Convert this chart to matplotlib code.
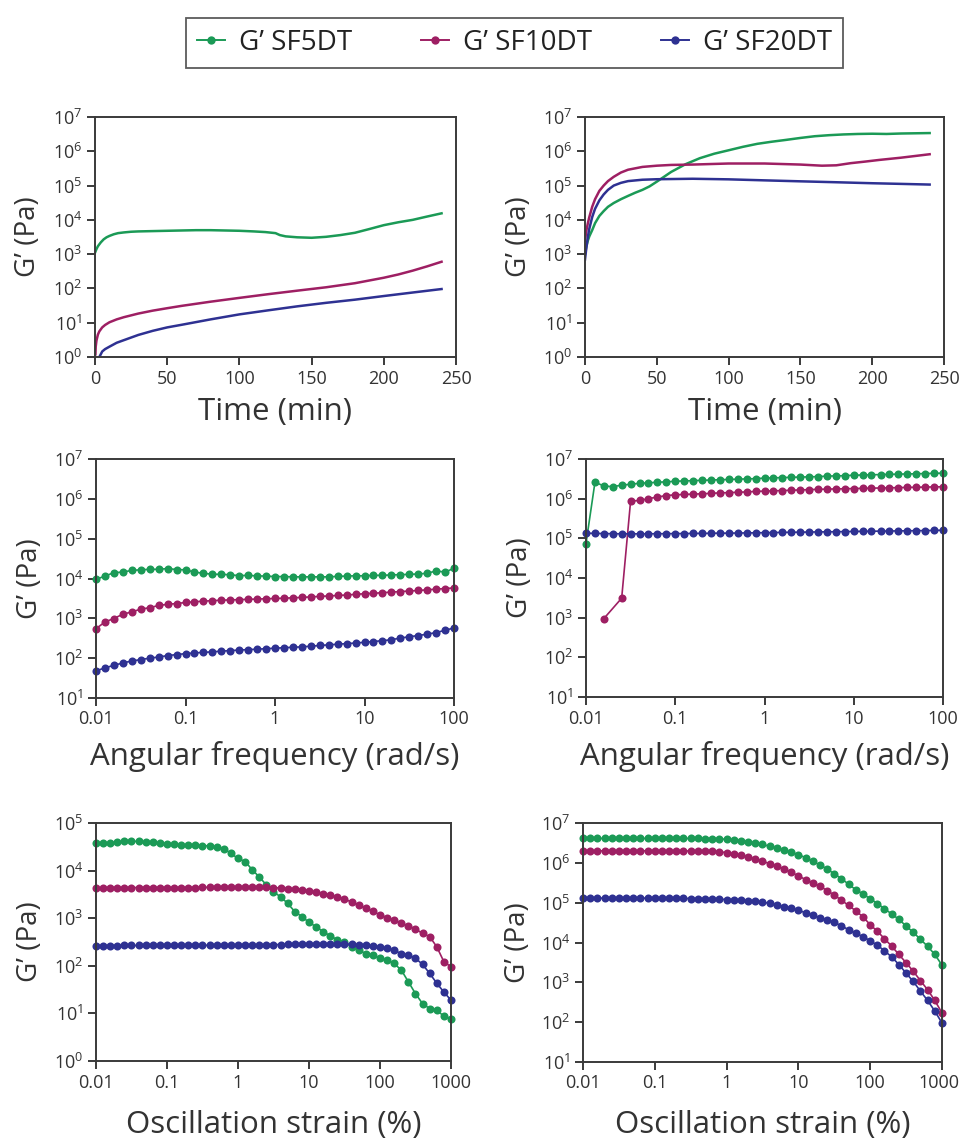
import matplotlib
matplotlib.use("Agg")
import matplotlib.pyplot as plt
import matplotlib.transforms as mtransforms
from matplotlib.lines import Line2D
from matplotlib.ticker import FixedLocator, FixedFormatter, NullLocator

plt.rcParams['font.family'] = ['Open Sans', 'DejaVu Sans']
plt.rcParams['mathtext.fontset'] = 'custom'
plt.rcParams['mathtext.rm'] = 'Open Sans'
plt.rcParams['mathtext.it'] = 'Open Sans'

# ---------------- data ----------------
series_labels = ["G\u2019 SF5DT", "G\u2019 SF10DT", "G\u2019 SF20DT"]
colors = ["#1b9a56", "#9e1f63", "#2e3192"]

# time sweep, left panel
t1_g = [0, 1, 2, 4, 6, 8, 10, 13, 16, 20, 25, 30, 40, 50, 60, 70, 80, 90, 100, 110, 118, 125,
        128, 132, 140, 150, 160, 170, 180, 190, 200, 210, 220, 230, 240]
g1_g = [1.1e3, 1.4e3, 1.7e3, 2.2e3, 2.7e3, 3.1e3, 3.4e3, 3.8e3, 4.1e3, 4.3e3, 4.5e3, 4.6e3, 4.7e3,
        4.8e3, 4.9e3, 5.0e3, 5.0e3, 4.9e3, 4.8e3, 4.6e3, 4.4e3, 4.1e3, 3.6e3, 3.3e3, 3.1e3, 3.0e3,
        3.2e3, 3.6e3, 4.2e3, 5.4e3, 7.0e3, 8.5e3, 1.0e4, 1.25e4, 1.55e4]
t1_r = [0.3, 0.5, 1, 2, 3, 5, 7, 10, 15, 20, 30, 40, 50, 60, 80, 100, 120, 140, 160, 180, 200,
        210, 220, 230, 240]
g1_r = [1.2, 2.0, 3.0, 4.5, 5.6, 7.3, 8.6, 10.3, 12.5, 14.5, 18.5, 22.5, 26.5, 31, 41, 53, 68,
        86, 108, 142, 205, 255, 330, 440, 600]
t1_b = [3, 4, 5, 7, 10, 15, 20, 30, 40, 50, 60, 80, 100, 120, 140, 160, 180, 200, 220, 240]
g1_b = [1.0, 1.2, 1.45, 1.7, 2.0, 2.6, 3.1, 4.4, 5.8, 7.3, 8.7, 12.5, 17.5, 23, 30, 38, 47, 60,
        76, 96]

# time sweep, right panel
t2_g = [0, 1, 2, 3, 5, 7, 10, 13, 16, 20, 25, 30, 35, 40, 45, 50, 55, 60, 70, 80, 90, 100, 110,
        120, 130, 140, 150, 160, 170, 180, 190, 200, 210, 220, 230, 240]
g2_g = [1.0e3, 1.7e3, 2.5e3, 3.3e3, 5e3, 8e3, 1.3e4, 1.8e4, 2.4e4, 3.1e4, 4e4, 5e4, 6.2e4, 7.5e4,
        9.5e4, 1.3e5, 1.8e5, 2.5e5, 4.2e5, 6.3e5, 8.5e5, 1.07e6, 1.35e6, 1.65e6, 1.9e6, 2.15e6,
        2.45e6, 2.75e6, 2.95e6, 3.1e6, 3.2e6, 3.25e6, 3.2e6, 3.3e6, 3.35e6, 3.4e6]
t2_r = [0, 1, 2, 3, 5, 7, 10, 13, 16, 20, 25, 30, 40, 50, 60, 75, 100, 125, 150, 165, 175, 185,
        195, 205, 220, 240]
g2_r = [2.5e3, 5e3, 8e3, 1.2e4, 2.4e4, 4e4, 7e4, 1e5, 1.35e5, 1.8e5, 2.4e5, 2.9e5, 3.5e5, 3.8e5,
        4.0e5, 4.1e5, 4.4e5, 4.4e5, 4.1e5, 3.8e5, 3.9e5, 4.5e5, 5e5, 5.6e5, 6.5e5, 8.2e5]
t2_b = [0, 1, 2, 3, 5, 7, 10, 13, 16, 20, 25, 30, 40, 50, 75, 100, 125, 150, 175, 200, 220, 240]
g2_b = [7e2, 1.6e3, 3.2e3, 5.5e3, 1.2e4, 2.1e4, 3.7e4, 5.5e4, 7.5e4, 1.0e5, 1.2e5, 1.35e5,
        1.48e5, 1.53e5, 1.58e5, 1.52e5, 1.42e5, 1.33e5, 1.25e5, 1.17e5, 1.12e5, 1.07e5]

# frequency sweep
freq = [0.01, 0.0126, 0.0158, 0.02, 0.0251, 0.0316, 0.0398, 0.0501, 0.0631, 0.0794,
        0.1, 0.126, 0.158, 0.2, 0.251, 0.316, 0.398, 0.501, 0.631, 0.794,
        1, 1.26, 1.58, 2, 2.51, 3.16, 3.98, 5.01, 6.31, 7.94,
        10, 12.6, 15.8, 20, 25.1, 31.6, 39.8, 50.1, 63.1, 79.4, 100]
f1_g = [9.5e3, 1.15e4, 1.4e4, 1.45e4, 1.6e4, 1.65e4, 1.7e4, 1.7e4, 1.78e4, 1.68e4,
        1.65e4, 1.45e4, 1.35e4, 1.28e4, 1.27e4, 1.24e4, 1.18e4, 1.2e4, 1.16e4, 1.15e4,
        1.12e4, 1.12e4, 1.1e4, 1.1e4, 1.1e4, 1.1e4, 1.1e4, 1.13e4, 1.15e4, 1.17e4,
        1.17e4, 1.2e4, 1.2e4, 1.23e4, 1.25e4, 1.27e4, 1.3e4, 1.35e4, 1.55e4, 1.45e4, 1.8e4]
f1_r = [550, 810, 990, 1270, 1450, 1700, 1850, 2100, 2250, 2350,
        2500, 2600, 2700, 2780, 2850, 2900, 2950, 3000, 3050, 3100,
        3150, 3200, 3280, 3350, 3450, 3550, 3650, 3750, 3850, 4000,
        4150, 4250, 4400, 4550, 4700, 4850, 5000, 5200, 5400, 5600, 5800]
f1_b = [48, 57, 66, 76, 85, 92, 100, 107, 116, 123,
        130, 135, 140, 144, 150, 155, 160, 164, 168, 173,
        178, 183, 188, 192, 200, 208, 216, 224, 232, 240,
        250, 262, 275, 290, 320, 345, 370, 400, 440, 500, 575]

f2_g = [7.4e4, 2.6e6, 2.1e6, 2.0e6, 2.2e6, 2.3e6, 2.45e6, 2.5e6, 2.6e6, 2.65e6,
        2.75e6, 2.8e6, 2.85e6, 2.9e6, 2.95e6, 3.0e6, 3.05e6, 3.1e6, 3.15e6, 3.2e6,
        3.3e6, 3.35e6, 3.4e6, 3.45e6, 3.5e6, 3.55e6, 3.6e6, 3.7e6, 3.75e6, 3.8e6,
        3.9e6, 3.95e6, 4.0e6, 4.05e6, 4.1e6, 4.15e6, 4.2e6, 4.25e6, 4.3e6, 4.35e6, 4.4e6]
freq2_r = [0.0158, 0.0251, 0.0316, 0.0398, 0.0501, 0.0631, 0.0794,
           0.1, 0.126, 0.158, 0.2, 0.251, 0.316, 0.398, 0.501, 0.631, 0.794,
           1, 1.26, 1.58, 2, 2.51, 3.16, 3.98, 5.01, 6.31, 7.94,
           10, 12.6, 15.8, 20, 25.1, 31.6, 39.8, 50.1, 63.1, 79.4, 100]
f2_r = [940, 3100, 8.7e5, 9.0e5, 1.0e6, 1.1e6, 1.2e6,
        1.25e6, 1.28e6, 1.3e6, 1.33e6, 1.36e6, 1.4e6, 1.42e6, 1.45e6, 1.48e6, 1.52e6,
        1.55e6, 1.58e6, 1.6e6, 1.63e6, 1.66e6, 1.69e6, 1.72e6, 1.74e6, 1.76e6, 1.78e6,
        1.8e6, 1.82e6, 1.84e6, 1.86e6, 1.88e6, 1.9e6, 1.92e6, 1.94e6, 1.96e6, 1.98e6, 2.0e6]
f2_b = [1.35e5, 1.33e5, 1.32e5, 1.31e5, 1.3e5, 1.3e5, 1.3e5, 1.3e5, 1.31e5, 1.31e5,
        1.32e5, 1.32e5, 1.33e5, 1.33e5, 1.34e5, 1.35e5, 1.35e5, 1.36e5, 1.37e5, 1.38e5,
        1.39e5, 1.4e5, 1.41e5, 1.42e5, 1.43e5, 1.44e5, 1.45e5, 1.46e5, 1.47e5, 1.48e5,
        1.49e5, 1.5e5, 1.51e5, 1.52e5, 1.53e5, 1.54e5, 1.55e5, 1.56e5, 1.57e5, 1.58e5, 1.6e5]

# amplitude (strain) sweep
strain = [0.01, 0.0126, 0.0158, 0.02, 0.0251, 0.0316, 0.0398, 0.0501, 0.0631, 0.0794,
          0.1, 0.126, 0.158, 0.2, 0.251, 0.316, 0.398, 0.501, 0.631, 0.794,
          1, 1.26, 1.58, 2, 2.51, 3.16, 3.98, 5.01, 6.31, 7.94,
          10, 12.6, 15.8, 20, 25.1, 31.6, 39.8, 50.1, 63.1, 79.4,
          100, 126, 158, 200, 251, 316, 398, 501, 631, 794, 1000]
s1_g = [3.8e4, 3.8e4, 3.8e4, 3.9e4, 4.1e4, 4.15e4, 4.1e4, 4.0e4, 3.9e4, 3.8e4,
        3.7e4, 3.6e4, 3.5e4, 3.45e4, 3.4e4, 3.35e4, 3.3e4, 3.1e4, 2.9e4, 2.3e4,
        1.8e4, 1.55e4, 1.05e4, 7.3e3, 5e3, 3.6e3, 2.8e3, 2.05e3, 1.37e3, 1.08e3,
        820, 660, 520, 425, 350, 310, 250, 215, 180, 168,
        143, 132, 112, 81, 46, 26, 16, 12.6, 11.7, 8.7, 7.8]
s1_r = [4.3e3, 4.35e3, 4.4e3, 4.4e3, 4.4e3, 4.4e3, 4.4e3, 4.4e3, 4.4e3, 4.4e3,
        4.4e3, 4.4e3, 4.4e3, 4.4e3, 4.4e3, 4.45e3, 4.45e3, 4.45e3, 4.45e3, 4.5e3,
        4.5e3, 4.5e3, 4.6e3, 4.6e3, 4.5e3, 4.4e3, 4.3e3, 4.2e3, 4.1e3, 3.9e3,
        3.8e3, 3.5e3, 3.3e3, 3.1e3, 2.8e3, 2.5e3, 2.2e3, 1.9e3, 1.6e3, 1.4e3,
        1.17e3, 1.03e3, 915, 780, 690, 590, 480, 410, 250, 122, 95]
s1_b = [265, 265, 266, 266, 267, 267, 267, 268, 268, 268,
        268, 268, 269, 269, 269, 269, 270, 270, 270, 270,
        270, 270, 272, 274, 276, 278, 280, 282, 284, 286,
        288, 290, 290, 290, 290, 288, 285, 280, 270, 260,
        250, 235, 210, 180, 168, 144, 107, 69, 43, 28, 19]

s2_g = [4.1e6, 4.1e6, 4.12e6, 4.1e6, 4.1e6, 4.12e6, 4.1e6, 4.1e6, 4.1e6, 4.1e6,
        4.1e6, 4.1e6, 4.1e6, 4.1e6, 4.1e6, 4.1e6, 4.1e6, 4.08e6, 4.05e6, 4.0e6,
        3.9e6, 3.75e6, 3.6e6, 3.4e6, 3.15e6, 2.9e6, 2.6e6, 2.35e6, 2.1e6, 1.85e6,
        1.6e6, 1.35e6, 1.1e6, 8.8e5, 7e5, 5.3e5, 4e5, 2.9e5, 2.1e5, 1.65e5,
        1.25e5, 9.5e4, 7e4, 5.2e4, 3.8e4, 2.6e4, 1.8e4, 1.2e4, 8e3, 5e3, 2.7e3]
s2_r = [2.0e6, 2.0e6, 2.0e6, 2.0e6, 2.0e6, 2.0e6, 2.0e6, 2.0e6, 2.0e6, 2.0e6,
        2.0e6, 2.0e6, 2.0e6, 2.0e6, 2.0e6, 1.98e6, 1.97e6, 1.96e6, 1.95e6, 1.9e6,
        1.8e6, 1.65e6, 1.55e6, 1.4e6, 1.25e6, 1.1e6, 9.5e5, 8.3e5, 7e5, 5.8e5,
        4.7e5, 3.8e5, 3.1e5, 2.6e5, 2.0e5, 1.55e5, 1.15e5, 8.5e4, 6.2e4, 4.4e4,
        2.8e4, 1.9e4, 1.25e4, 8e3, 5e3, 3.1e3, 1.9e3, 1.1e3, 650, 350, 170]
s2_b = [1.3e5, 1.3e5, 1.3e5, 1.3e5, 1.3e5, 1.3e5, 1.3e5, 1.3e5, 1.3e5, 1.3e5,
        1.3e5, 1.3e5, 1.3e5, 1.3e5, 1.28e5, 1.27e5, 1.26e5, 1.25e5, 1.23e5, 1.22e5,
        1.2e5, 1.18e5, 1.15e5, 1.12e5, 1.08e5, 1.03e5, 9.6e4, 8.8e4, 8e4, 7.2e4,
        6.4e4, 5.6e4, 4.9e4, 4.2e4, 3.7e4, 3.2e4, 2.6e4, 2.1e4, 1.7e4, 1.4e4,
        1.1e4, 8.5e3, 6.2e3, 4.3e3, 2.8e3, 1.7e3, 1.05e3, 600, 350, 190, 95]

freq_ticks = [0.01, 0.1, 1, 10, 100]
freq_ticklabels = ["0.01", "0.1", "1", "10", "100"]
strain_ticks = [0.01, 0.1, 1, 10, 100, 1000]
strain_ticklabels = ["0.01", "0.1", "1", "10", "100", "1000"]
time_ticks = [0, 50, 100, 150, 200, 250]

# ---------------- figure ----------------
W, H = 960, 1147
fig = plt.figure(figsize=(W / 100, H / 100), dpi=100)


def add_ax(l, t, r, b):
    return fig.add_axes([l / W, 1 - b / H, (r - l) / W, (b - t) / H])


axes_px = [(95, 117, 456, 357), (585, 117, 944, 357),
           (96, 459, 454, 698), (586, 459, 943, 697),
           (96, 823, 451, 1061), (583, 823, 942, 1062)]
axs = [add_ax(*p) for p in axes_px]

spine_c = "#3a3a3a"
text_c = "#333333"
tick_fs = 13
ylab_fs = 20
xlab_fs = 22.5


def style(ax, ylo, yhi):
    ax.set_yscale('log')
    ax.set_ylim(10 ** ylo, 10 ** yhi)
    ax.yaxis.set_major_locator(FixedLocator([10 ** k for k in range(ylo, yhi + 1)]))
    ax.yaxis.set_minor_locator(NullLocator())
    for s in ax.spines.values():
        s.set_color(spine_c)
        s.set_linewidth(1.4)
    ax.tick_params(which='major', direction='out', length=6, width=1.4, color=spine_c,
                   labelsize=tick_fs, labelcolor=text_c, pad=3)
    ax.tick_params(which='minor', length=0)
    ax.set_ylabel("G\u2019 (Pa)", fontsize=ylab_fs, color=text_c)


lw_line = 1.8
# top panels: time sweeps
for ax, data in [(axs[0], [(t1_g, g1_g), (t1_r, g1_r), (t1_b, g1_b)]),
                 (axs[1], [(t2_g, g2_g), (t2_r, g2_r), (t2_b, g2_b)])]:
    style(ax, 0, 7)
    for (tx, ty), c in zip(data, colors):
        ax.plot(tx, ty, color=c, lw=lw_line)
    ax.set_xlim(0, 250)
    ax.xaxis.set_major_locator(FixedLocator(time_ticks))
    ax.set_xlabel("Time (min)", fontsize=xlab_fs, color=text_c)

mk = dict(marker='o', ms=5.8, lw=1.2, mew=0)
# middle panels: frequency sweeps
for ax, data in [(axs[2], [(freq, f1_g), (freq, f1_r), (freq, f1_b)]),
                 (axs[3], [(freq, f2_g), (freq2_r, f2_r), (freq, f2_b)])]:
    style(ax, 1, 7)
    for (fx, fy), c in zip(data, colors):
        ax.plot(fx, fy, color=c, clip_on=False, **mk)
    ax.set_xscale('log')
    ax.set_xlim(0.01, 100)
    ax.xaxis.set_major_locator(FixedLocator(freq_ticks))
    ax.xaxis.set_major_formatter(FixedFormatter(freq_ticklabels))
    ax.xaxis.set_minor_locator(NullLocator())
    ax.set_xlabel("Angular frequency (rad/s)", fontsize=xlab_fs, color=text_c)

# bottom panels: strain sweeps
for ax, data, (ylo, yhi) in [(axs[4], [s1_g, s1_r, s1_b], (0, 5)),
                             (axs[5], [s2_g, s2_r, s2_b], (1, 7))]:
    style(ax, ylo, yhi)
    for sy, c in zip(data, colors):
        ax.plot(strain, sy, color=c, clip_on=False, **mk)
    ax.set_xscale('log')
    ax.set_xlim(0.01, 1000)
    ax.xaxis.set_major_locator(FixedLocator(strain_ticks))
    ax.xaxis.set_major_formatter(FixedFormatter(strain_ticklabels))
    ax.xaxis.set_minor_locator(NullLocator())
    ax.set_xlabel("Oscillation strain (%)", fontsize=xlab_fs, color=text_c)

# keep the last strain tick label of the right panel inside the figure
fig.canvas.draw()
last_lbl = axs[5].get_xticklabels()[-1]
last_lbl.set_transform(last_lbl.get_transform() +
                       mtransforms.ScaledTranslation(-3 / 100, 0, fig.dpi_scale_trans))

# label positions (figure pixel coordinates)
xlab_y = [412, 412, 757, 757, 1125, 1125]
ylab_x = [28, 519, 30, 520, 30, 518]
for ax, yy, xx, p in zip(axs, xlab_y, ylab_x, axes_px):
    ax.xaxis.set_label_coords((p[0] + p[2]) / 2 / W, 1 - yy / H, transform=fig.transFigure)
    ax.xaxis.label.set_va('center')
    ax.yaxis.set_label_coords(xx / W, 1 - (p[1] + p[3]) / 2 / H, transform=fig.transFigure)
    ax.yaxis.label.set_va('center')

# legend
handles = [Line2D([], [], color=c, marker='o', ms=6, lw=1.4, mew=0) for c in colors]
leg = fig.legend(handles, series_labels, loc='center',
                 bbox_to_anchor=(186 / W, 1 - 72 / H, 657 / W, 58 / H), mode='expand',
                 ncol=3, fontsize=20, frameon=True, fancybox=False, handlelength=1.0,
                 handletextpad=0.5, columnspacing=1.2, borderpad=0.4, borderaxespad=0)
leg.get_frame().set_edgecolor("#333333")
leg.get_frame().set_linewidth(1.3)
for txt in leg.get_texts():
    txt.set_color("#222222")

fig.savefig("out.png", dpi=100)
